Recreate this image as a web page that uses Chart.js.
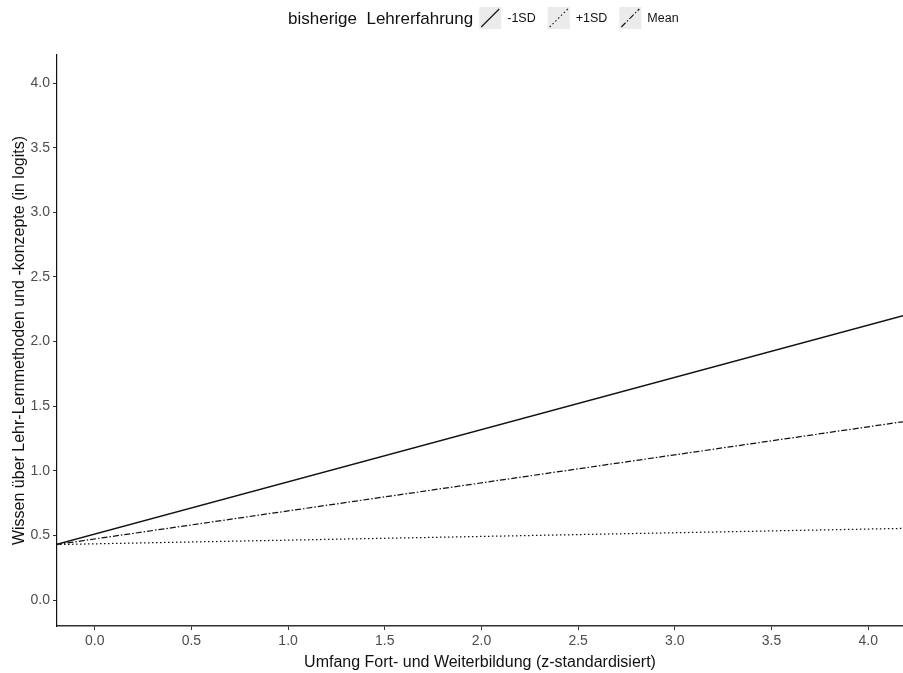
<!DOCTYPE html>
<html>
<head>
<meta charset="utf-8">
<script src="https://cdn.jsdelivr.net/npm/chart.js@4/dist/chart.umd.min.js"></script>
<style>
html,body{margin:0;padding:0;background:#fff;}
#wrap{width:903px;height:673px;position:relative;}
</style>
</head>
<body>
<div id="wrap"><canvas id="c" width="903" height="673"></canvas></div>
<script>
// ---- data ----
const xValues = [-0.2, 4.18];              // x positions of line endpoints
const seriesLabels = ['-1SD', '+1SD', 'Mean'];
const minus1SD = [0.43, 2.20];
const plus1SD  = [0.43, 0.555];
const meanVals = [0.43, 1.38];
const xTickValues = [0.0, 0.5, 1.0, 1.5, 2.0, 2.5, 3.0, 3.5, 4.0];
const yTickValues = [0.0, 0.5, 1.0, 1.5, 2.0, 2.5, 3.0, 3.5, 4.0];
const legendTitle = 'bisherige  Lehrerfahrung';
const xTitle = 'Umfang Fort- und Weiterbildung (z-standardisiert)';
const yTitle = 'Wissen über Lehr-Lernmethoden und -konzepte (in logits)';

const FONT = "'Liberation Sans', Arial, sans-serif";
const dashes = [[], [1.5, 2.5], [6, 2, 1.5, 2]];
const seriesValues = [minus1SD, plus1SD, meanVals];

const datasets = seriesLabels.map((lab, i) => ({
  label: lab,
  data: xValues.map((x, j) => ({x: x, y: seriesValues[i][j]})),
  borderColor: '#111',
  borderWidth: i === 0 ? 1.3 : 1.25,
  borderDash: dashes[i],
  pointRadius: 0,
  fill: false,
  tension: 0
}));

const legendPlugin = {
  id: 'ggLegend',
  afterDraw(chart) {
    const ctx = chart.ctx;
    ctx.save();
    ctx.fillStyle = '#111';
    ctx.font = '17px ' + FONT;
    ctx.textBaseline = 'middle';
    ctx.textAlign = 'left';
    const cy = 18;
    let x = 288;
    ctx.fillText(legendTitle, x, cy + 1);
    x += ctx.measureText(legendTitle).width + 6;
    ctx.font = '12.5px ' + FONT;
    chart.data.datasets.forEach((ds) => {
      const bw = 22, bh = 22;
      ctx.fillStyle = '#ebebeb';
      ctx.fillRect(x, cy - bh / 2, bw, bh);
      ctx.strokeStyle = ds.borderColor;
      ctx.lineWidth = 1.1;
      ctx.setLineDash(ds.borderDash);
      ctx.beginPath();
      ctx.moveTo(x + 2, cy + bh / 2 - 2);
      ctx.lineTo(x + bw - 2, cy - bh / 2 + 2);
      ctx.stroke();
      ctx.setLineDash([]);
      x += bw + 6;
      ctx.fillStyle = '#111';
      ctx.fillText(ds.label, x, cy + 1);
      x += ctx.measureText(ds.label).width + 12;
    });
    ctx.restore();
  }
};

new Chart(document.getElementById('c'), {
  type: 'line',
  data: { datasets: datasets },
  options: {
    responsive: false,
    animation: false,
    layout: { padding: { top: 55, left: 0, right: 0, bottom: 0 } },
    plugins: { legend: { display: false }, tooltip: { enabled: false } },
    scales: {
      x: {
        type: 'linear',
        min: -0.195,
        max: 4.18,
        afterBuildTicks: (s) => { s.ticks = xTickValues.map(v => ({value: v})); },
        afterFit: (s) => { s.height = 47; },
        ticks: {
          callback: (v) => Number(v).toFixed(1),
          color: '#4d4d4d',
          font: { family: FONT, size: 14 },
          padding: 3,
          maxRotation: 0,
          autoSkip: false
        },
        grid: { drawOnChartArea: false, drawTicks: true, tickLength: 4, color: '#333', tickWidth: 1 },
        border: { display: true, color: '#333', width: 1.4 },
        title: {
          display: true, text: xTitle, color: '#111',
          font: { family: FONT, size: 16 }, padding: { top: 0, bottom: 1 }
        }
      },
      y: {
        type: 'linear',
        min: -0.2,
        max: 4.217,
        afterBuildTicks: (s) => { s.ticks = yTickValues.map(v => ({value: v})); },
        afterFit: (s) => { s.width = 57; },
        ticks: {
          callback: (v) => Number(v).toFixed(1),
          color: '#4d4d4d',
          font: { family: FONT, size: 14 },
          padding: 3
        },
        grid: { drawOnChartArea: false, drawTicks: true, tickLength: 4, color: '#333', tickWidth: 1 },
        border: { display: true, color: '#111', width: 1.2 },
        title: {
          display: true, text: yTitle, color: '#111',
          font: { family: FONT, size: 16 }, padding: { top: 10, bottom: 10 }
        }
      }
    }
  },
  plugins: [legendPlugin]
});
</script>
</body>
</html>
